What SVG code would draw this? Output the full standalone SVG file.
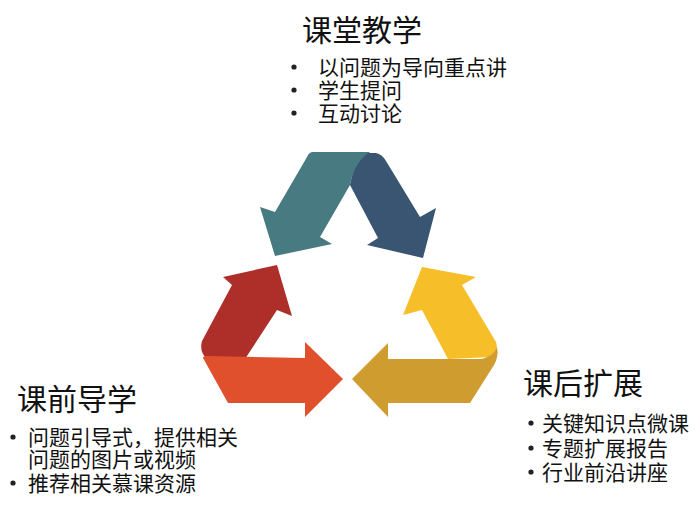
<svg xmlns="http://www.w3.org/2000/svg" width="700" height="506" viewBox="0 0 700 506">
<style>
text{font-family:"Noto Sans CJK SC","Noto Sans",sans-serif;fill:#111}
.t{font-size:30px}
.b{font-size:21px}
.dot{fill:#222}
</style>
<rect width="700" height="506" fill="#fff"/>
<g id="connectors">
<path id="teal" fill="#477B81" d="M313,152 L370,152 Q352,168 350,185 L320,237 L332,244 L275,256 L260,207 L275,212 L307,157 Q309,152 313,152 Z"/>
<path id="blue" fill="#3A5571" d="M368,153 L376,153 Q382,154 386,161 L420,217 L436,208 L423,258 L367,245 L378,238 L350,185 Q353,165 368,153 Z"/>
<path id="red" fill="#AE2F29" d="M277,265 L292,316 L277,310 L245,359 L207,359 Q199,352 202,341 L232,285 L223,277 Z"/>
<path id="orange" fill="#E1502C" d="M207,356 L305,358 L305,342 L343,379 L305,417 L305,403 L228,403 L203,358 Q203,356 207,356 Z"/>
<path id="yellow" fill="#F6BF2A" d="M422,267 L476,277 L462,285 L496,342 Q499,350 492,357 L448,359 L422,310 L403,315 Z"/>
<path id="gold" fill="#CF9C30" d="M352,379 L388,343 L388,359 L482,359 Q494,356 497,347 Q499,356 494,365 L470,403 L388,403 L388,417 Z"/>
</g>
<g id="node-top">
<text class="t" x="302" y="41">课堂教学</text>
<circle class="dot" cx="294" cy="67" r="2.6"/><text class="b" x="318" y="75">以问题为导向重点讲</text>
<circle class="dot" cx="294" cy="90" r="2.6"/><text class="b" x="318" y="98">学生提问</text>
<circle class="dot" cx="294" cy="113" r="2.6"/><text class="b" x="318" y="121">互动讨论</text>
</g>
<g id="node-left">
<text class="t" x="17" y="410">课前导学</text>
<circle class="dot" cx="13" cy="437" r="2.6"/><text class="b" x="28" y="445">问题引导式，提供相关</text>
<text class="b" x="28" y="467">问题的图片或视频</text>
<circle class="dot" cx="13" cy="483" r="2.6"/><text class="b" x="28" y="491">推荐相关慕课资源</text>
</g>
<g id="node-right">
<text class="t" x="523" y="394">课后扩展</text>
<circle class="dot" cx="531" cy="423" r="2.6"/><text class="b" x="542" y="431">关键知识点微课</text>
<circle class="dot" cx="531" cy="448" r="2.6"/><text class="b" x="542" y="456">专题扩展报告</text>
<circle class="dot" cx="531" cy="472" r="2.6"/><text class="b" x="542" y="480">行业前沿讲座</text>
</g>
</svg>
